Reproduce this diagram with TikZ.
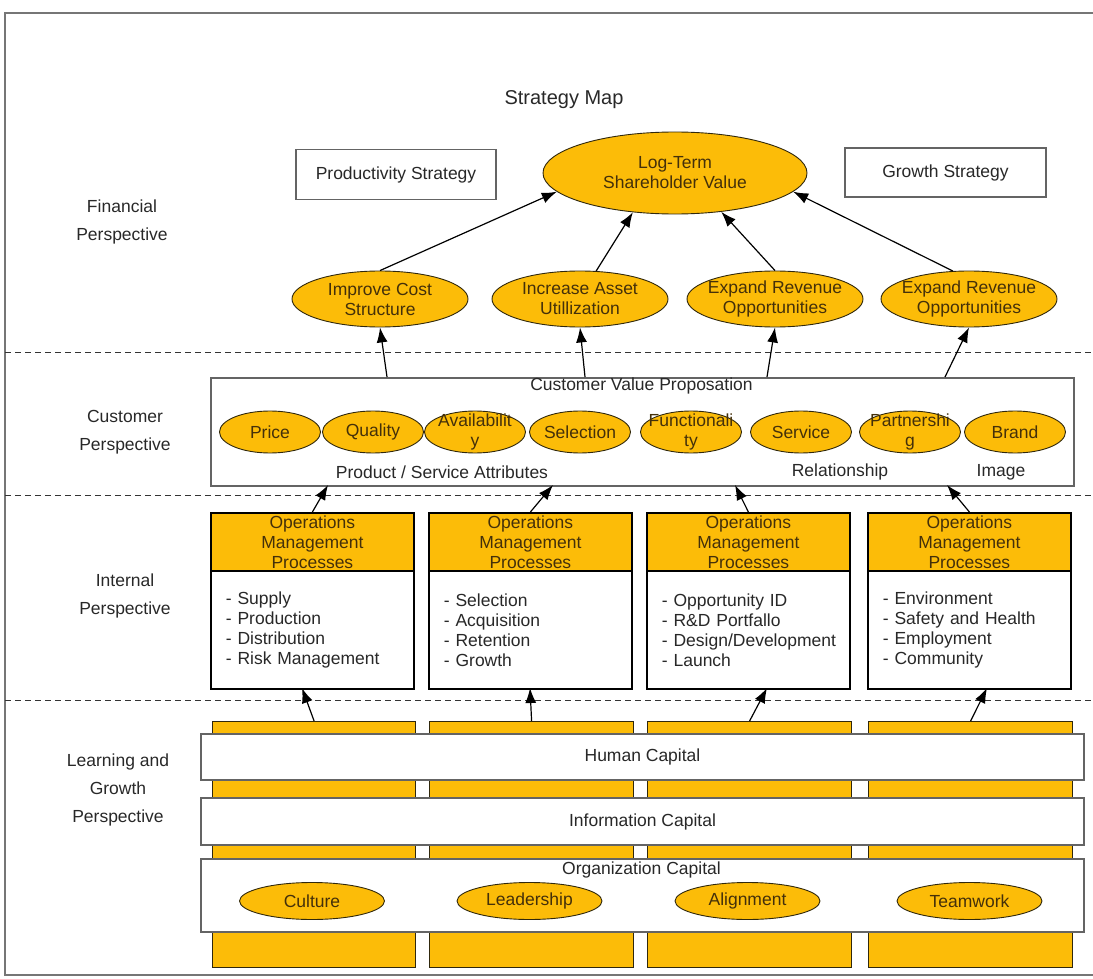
\documentclass[tikz,border=0pt]{standalone}
\usepackage{fontspec}
\setmainfont{Liberation Sans}
\usetikzlibrary{shapes.geometric,arrows.meta,calc}

\definecolor{gold}{RGB}{252,188,8}
\definecolor{framegray}{RGB}{118,118,118}
\definecolor{boxgray}{RGB}{100,100,100}
\definecolor{inktext}{RGB}{40,40,40}
\definecolor{goldtext}{RGB}{68,48,10}
\definecolor{edge}{RGB}{48,40,12}

\begin{document}
\begin{tikzpicture}[x=1pt,y=-1pt,
  every node/.style={font=\fontsize{17.5}{20}\selectfont, text=inktext, inner sep=0pt},
  goal/.style={ellipse, draw=edge, line width=0.9pt, fill=gold, text=goldtext,
    align=center, inner sep=-10pt, minimum width=176pt, minimum height=56pt},
  rootgoal/.style={goal, minimum width=264pt, minimum height=82pt},
  attr/.style={ellipse, draw=edge, line width=0.9pt, fill=gold, text=goldtext,
    align=center, inner sep=-12pt, minimum width=101pt, minimum height=42pt},
  capital/.style={ellipse, draw=edge, line width=0.9pt, fill=gold, text=goldtext,
    align=center, inner sep=-10pt, minimum width=145pt, minimum height=37pt},
  plainbox/.style={rectangle, draw=boxgray, line width=1.6pt, fill=white},
  hdr/.style={rectangle, draw=black, line width=1.8pt, fill=gold, text=goldtext,
    align=center, minimum width=203pt, minimum height=58pt, anchor=north west},
  body/.style={rectangle, draw=black, line width=1.8pt, fill=white, align=left,
    text width=173pt, inner xsep=15pt, minimum height=118pt, anchor=north west},
  pillar/.style={rectangle, draw=edge, line width=1.2pt, fill=gold,
    minimum height=246pt, anchor=north west},
  band/.style={rectangle, draw=boxgray, line width=2pt, fill=white,
    minimum width=883pt, anchor=north west},
  link/.style={-{Latex[length=15pt,width=11pt]}, line width=1.2pt, draw=black},
  divider/.style={dash pattern=on 6pt off 4pt, line width=1pt, draw=black!80},
  persp/.style={font=\fontsize{17.5}{28}\selectfont, align=center, text=inktext}
]
\useasboundingbox (0,0) rectangle (1093,979);

% outer frame
\draw[framegray, line width=2.5pt] (1093,13) -- (5,13) -- (5,975) -- (1093,975);

% perspective dividers
\draw[divider] (5,352) -- (1093,352);
\draw[divider] (5,495) -- (1093,495);
\draw[divider] (5,700) -- (1093,700);

% title and perspective labels
\node[font=\fontsize{20}{24}\selectfont] (title) at (564,100) {Strategy Map};
\node[persp] (pfin)  at (122,222) {Financial\\Perspective};
\node[persp] (pcus)  at (125,432) {Customer\\Perspective};
\node[persp] (pint)  at (125,596) {Internal\\Perspective};
\node[persp] (plrn)  at (118,790) {Learning and\\Growth\\Perspective};

% financial perspective
\node[plainbox, minimum width=200pt, minimum height=50pt] (prod) at (396,174.5) {Productivity Strategy};
\node[plainbox, minimum width=201pt, minimum height=49pt] (grow) at (945.5,172.5) {Growth Strategy};
\node[rootgoal] (lt) at (675,173) {Log-Term\\Shareholder Value};
\node[goal] (g1) at (380,299) {Improve Cost\\Structure};
\node[goal] (g2) at (580,299) {Increase Asset\\Utillization};
\node[goal] (g3) at (775,299) {Expand Revenue\\Opportunities};
\node[goal] (g4) at (969,299) {Expand Revenue\\Opportunities};

\draw[link] (g1.north) -- (lt.189);
\draw[link] (g2.60)    -- (lt.223);
\draw[link] (g3.north) -- (lt.320);
\draw[link] (g4.120)   -- (lt.351);

% customer perspective
\node[plainbox, anchor=north west, minimum width=863pt, minimum height=108pt] (cv) at (210,377) {};
\node (cvt) at (641.5,386) {Customer Value Proposation};
\node[attr] (a1) at (270,432) {Price};
\node[attr] (a2) at (373,432) {Quality};
\node[attr] (a3) at (475,432) {Availabilit\\y};
\node[attr] (a4) at (580,432) {Selection};
\node[attr] (a5) at (691,432) {Functionali\\ty};
\node[attr] (a6) at (801,432) {Service};
\node[attr] (a7) at (910,432) {Partnershi\\g};
\node[attr] (a8) at (1015,432) {Brand};
\node (lpsa) at (442,472) {Product / Service Attributes};
\node (lrel) at (840,472) {Relationship};
\node (limg) at (1001,472) {Image};

\coordinate (cvo1) at (387,377);
\coordinate (cvo2) at (585,377);
\coordinate (cvo3) at (767,377);
\coordinate (cvo4) at (945,377);
\draw[link] (cvo1) -- (g1.south);
\draw[link] (cvo2) -- (g2.south);
\draw[link] (cvo3) -- (g3.south);
\draw[link] (cvo4) -- (g4.south);

% internal perspective
\node[hdr] (h1) at (210,512) {Operations\\Management\\Processes};
\node[hdr] (h2) at (428,512) {Operations\\Management\\Processes};
\node[hdr] (h3) at (646,512) {Operations\\Management\\Processes};
\node[hdr] (h4) at (867,512) {Operations\\Management\\Processes};
\node[body] (b1) at (210,570) {- Supply\\- Production\\- Distribution\\- Risk Management};
\node[body] (b2) at (428,570) {- Selection\\- Acquisition\\- Retention\\- Growth};
\node[body] (b3) at (646,570) {- Opportunity ID\\- R\&D Portfallo\\\mbox{- Design/Development}\\- Launch};
\node[body] (b4) at (867,570) {- Environment\\- Safety and Health\\- Employment\\- Community};

\coordinate (cvi1) at (328,485);
\coordinate (cvi2) at (553,485);
\coordinate (cvi3) at (735,485);
\coordinate (cvi4) at (947,485);
\draw[link] (h1.north) -- (cvi1);
\draw[link] (h2.north) -- (cvi2);
\draw[link] (h3.north) -- (cvi3);
\draw[link] (h4.north) -- (cvi4);

% learning and growth perspective
\node[pillar, minimum width=203pt] (p1) at (212,721) {};
\node[pillar, minimum width=204pt] (p2) at (429,721) {};
\node[pillar, minimum width=204pt] (p3) at (647,721) {};
\node[pillar, minimum width=204pt] (p4) at (868,721) {};

\node[band, minimum height=46pt] (hc) at (200,733) {Human Capital};
\node[band, minimum height=47pt] (ic) at (200,797) {Information Capital};
\node[band, minimum height=73pt] (oc) at (200,858) {};
\node (oct) at (641.5,870) {Organization Capital};
\node[capital] (c1) at (312,901) {Culture};
\node[capital] (c2) at (529.5,901) {Leadership};
\node[capital] (c3) at (747.5,901) {Alignment};
\node[capital] (c4) at (969.5,901) {Teamwork};

\coordinate (bi1) at (302,688);
\coordinate (bi2) at (530,688);
\coordinate (bi3) at (767,688);
\coordinate (bi4) at (987,688);
\draw[link] (p1.north) -- (bi1);
\draw[link] (p2.north) -- (bi2);
\draw[link] (p3.north) -- (bi3);
\draw[link] (p4.north) -- (bi4);
\end{tikzpicture}
\end{document}
